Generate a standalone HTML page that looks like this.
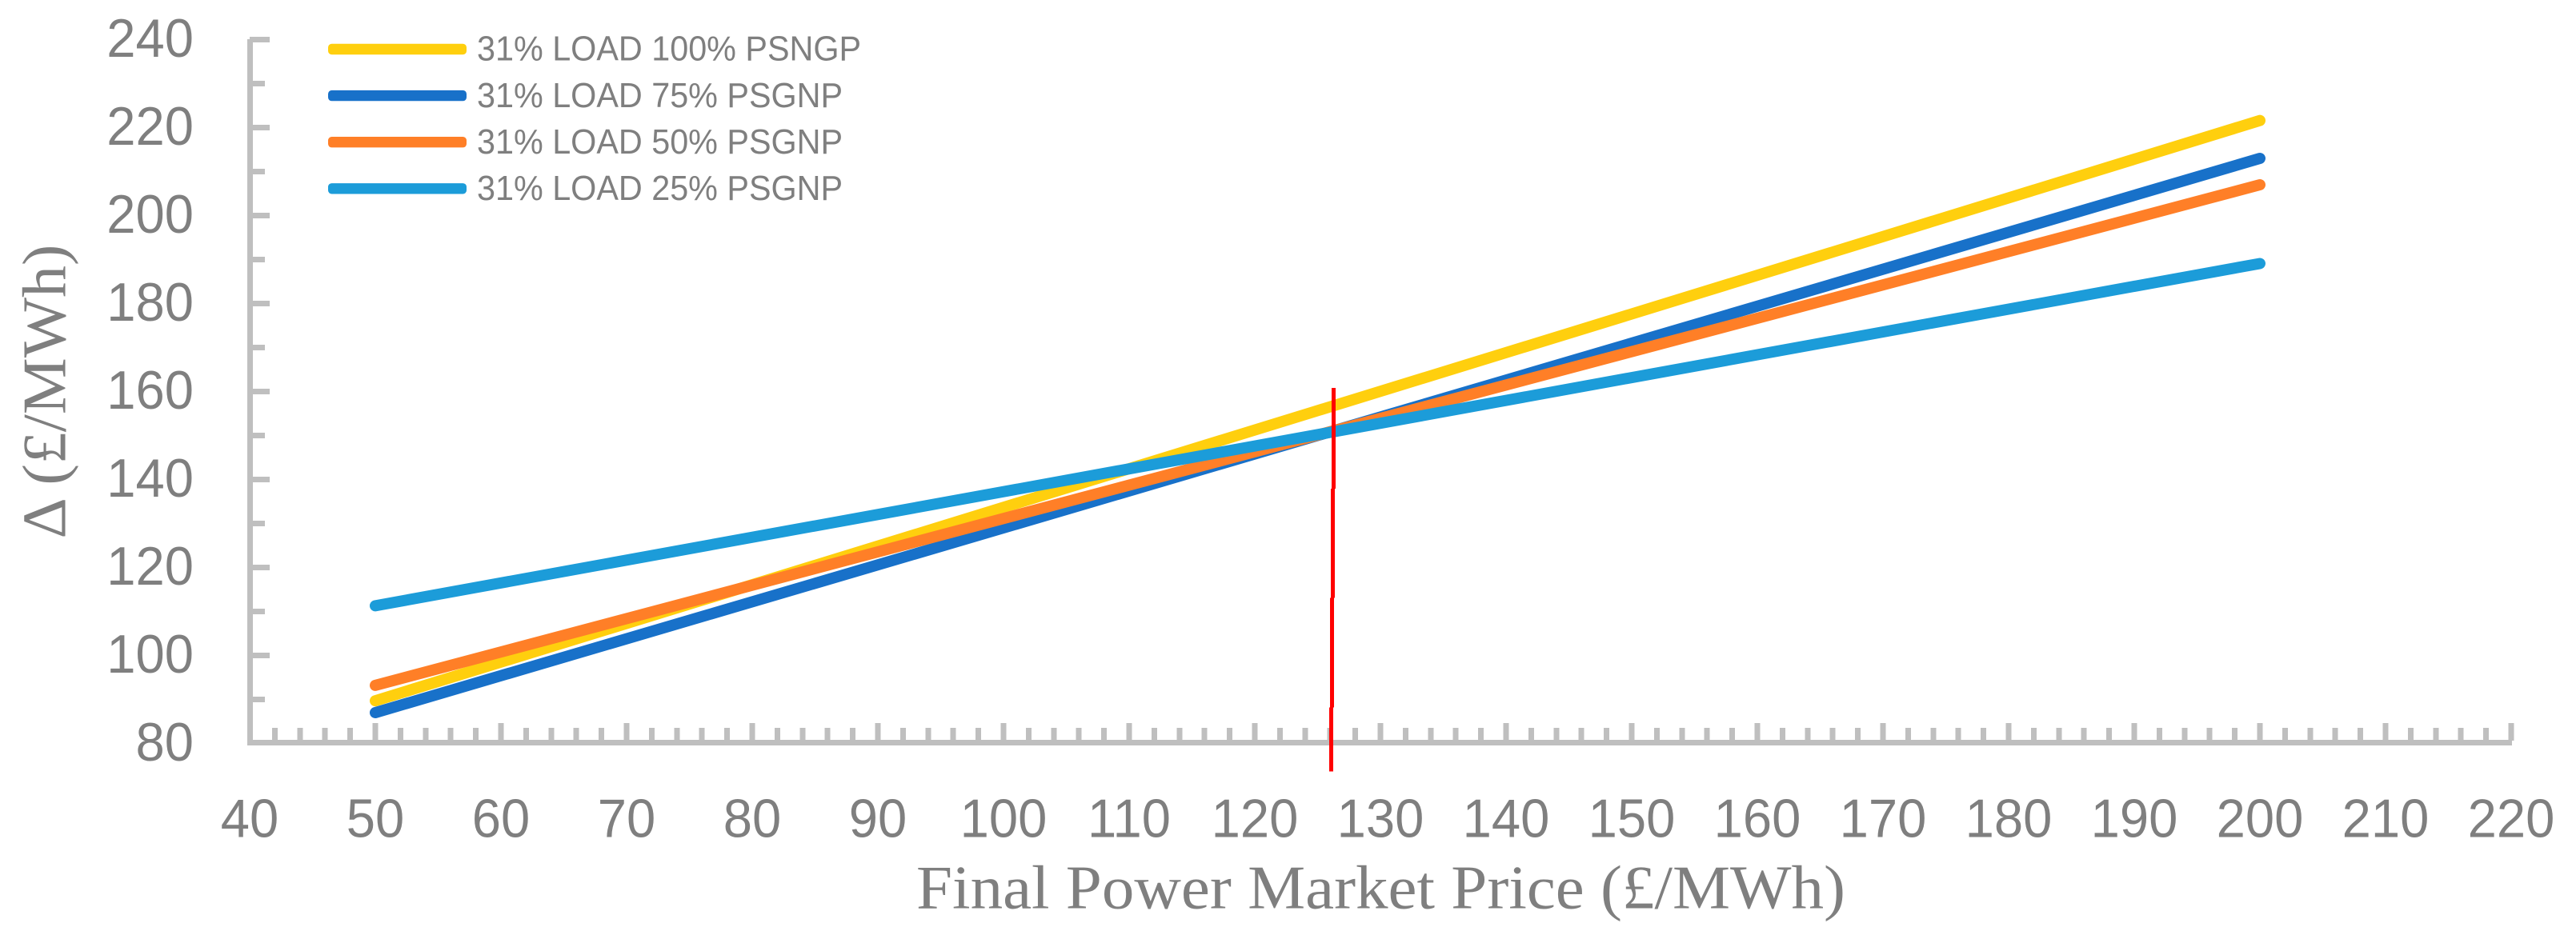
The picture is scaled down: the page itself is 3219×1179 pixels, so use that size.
<!DOCTYPE html>
<html lang="en">
<head>
<meta charset="utf-8">
<title>Final Power Market Price chart</title>
<style>
html,body{margin:0;padding:0;background:#fff;width:3219px;height:1179px;overflow:hidden}
svg{display:block}
.tick-label{font-family:"Liberation Sans",sans-serif;font-size:67.5px;fill:#7f7f7f}
.legend-label{font-family:"Liberation Sans",sans-serif;font-size:43.5px;fill:#7f7f7f}
.axis-title{font-family:"Liberation Serif",serif;font-size:77.5px;fill:#7f7f7f}
</style>
</head>
<body>
<svg id="chart" xmlns="http://www.w3.org/2000/svg" width="3219" height="1179" viewBox="0 0 3219 1179">
  <rect x="0" y="0" width="3219" height="1179" fill="#ffffff"/>
  <g id="y-ticks" shape-rendering="crispEdges"></g>
  <g id="x-ticks" shape-rendering="crispEdges"></g>
  <g id="axes" shape-rendering="crispEdges"></g>
  <g id="series"></g>
  <g id="marker" shape-rendering="crispEdges"></g>
  <g id="y-labels"></g>
  <g id="x-labels"></g>
  <g id="legend"></g>
  <text class="axis-title" x="1145" y="1135.5" textLength="1161" lengthAdjust="spacingAndGlyphs">Final Power Market Price (£/MWh)</text>
  <text class="axis-title" transform="translate(81.5 673.5) rotate(-90)" x="0" y="0" textLength="368" lengthAdjust="spacingAndGlyphs">Δ (£/MWh)</text>
</svg>
<script>
const prices = [50, 200];
const load100 = [89.7, 221.6];
const load75 = [87, 213];
const load50 = [93.2, 207];
const load25 = [111.3, 189.1];
const seriesNames = ['31% LOAD 100% PSNGP', '31% LOAD 75% PSGNP', '31% LOAD 50% PSGNP', '31% LOAD 25% PSGNP'];
const xTickLabels = [40, 50, 60, 70, 80, 90, 100, 110, 120, 130, 140, 150, 160, 170, 180, 190, 200, 210, 220];
const yTickLabels = [80, 100, 120, 140, 160, 180, 200, 220, 240];
const markerPrices = [126.27, 126.2, 126.14, 126.08];
const markerLevels = [160.8, 137.9, 113.1, 88.2, 73.6];

const NS = 'http://www.w3.org/2000/svg';
const GREY = '#bfbfbf';
const seriesValues = [load100, load75, load50, load25];
const seriesColors = ['#ffcf0e', '#1871c9', '#ff7f27', '#1c9cd9'];

function xAxis(v) { return 312 + (v - 40) * 15.7; }
function yAxis(v) { return 49.5 + (240 - v) * 5.5; }

function box(parent, x, y, w, h, fill) {
  const r = document.createElementNS(NS, 'rect');
  r.setAttribute('x', x);
  r.setAttribute('y', y);
  r.setAttribute('width', w);
  r.setAttribute('height', h);
  r.setAttribute('fill', fill);
  parent.appendChild(r);
  return r;
}
function label(parent, x, y, str, cls, anchor) {
  const t = document.createElementNS(NS, 'text');
  t.setAttribute('x', x);
  t.setAttribute('y', y);
  t.setAttribute('class', cls);
  t.setAttribute('text-anchor', anchor);
  t.textContent = str;
  parent.appendChild(t);
  return t;
}
function squeeze(t, factor) {
  const natural = t.getComputedTextLength();
  t.setAttribute('textLength', (natural * factor).toFixed(1));
  t.setAttribute('lengthAdjust', 'spacingAndGlyphs');
}

const axes = document.getElementById('axes');
const yLine = box(axes, 309, 49, 7, 883, GREY);


const xLine = box(axes, 309, 925, 2830, 7, GREY);



const yTicks = document.getElementById('y-ticks');
for (let v = yTickLabels[0] + 10; v <= yTickLabels[yTickLabels.length - 1]; v += 10) {
  const major = v % 20 === 0;
  const t = box(yTicks, 312, yAxis(v) - 3.5, major ? 25 : 19, 7, GREY);
  
  
}

const xTicks = document.getElementById('x-ticks');
for (let v = xTickLabels[0] + 2; v <= xTickLabels[xTickLabels.length - 1]; v += 2) {
  const major = v % 10 === 0;
  const top = major ? 904 : 910;
  const t = box(xTicks, xAxis(v) - 3.5, top, 7, 926 - top, GREY);
  
  
}

const yLabels = document.getElementById('y-labels');
yTickLabels.forEach(function (v) {
  const t = label(yLabels, 242, yAxis(v) + 21.3, String(v), 'tick-label', 'end');
  
  
  squeeze(t, 0.965);
});

const xLabels = document.getElementById('x-labels');
xTickLabels.forEach(function (v) {
  const t = label(xLabels, xAxis(v), 1046.5, String(v), 'tick-label', 'middle');
  
  
  squeeze(t, 0.965);
});

const seriesGroup = document.getElementById('series');
seriesValues.forEach(function (vals, i) {
  const p = document.createElementNS(NS, 'polyline');
  p.setAttribute('points', prices.map(function (x, j) { return xAxis(x) + ',' + yAxis(vals[j]); }).join(' '));
  p.setAttribute('fill', 'none');
  p.setAttribute('stroke', seriesColors[i]);
  p.setAttribute('stroke-width', '14');
  p.setAttribute('stroke-linecap', 'round');
  
  
  seriesGroup.appendChild(p);
});

const marker = document.getElementById('marker');
markerPrices.forEach(function (x, i) {
  const top = yAxis(markerLevels[i]);
  const bottom = yAxis(markerLevels[i + 1]);
  const s = box(marker, xAxis(x) - 2.5, top, 5, bottom - top, '#ff0000');
  
  
});

const legend = document.getElementById('legend');
seriesNames.forEach(function (name, i) {
  const cy = 61.5 + i * 58.1;
  const sw = box(legend, 410, cy - 6.7, 173, 13.4, seriesColors[i]);
  sw.setAttribute('rx', '4.5');
  
  
  const t = label(legend, 596, cy + 14.2, name, 'legend-label', 'start');
  
  
  squeeze(t, 0.95);
});
</script>
</body>
</html>
